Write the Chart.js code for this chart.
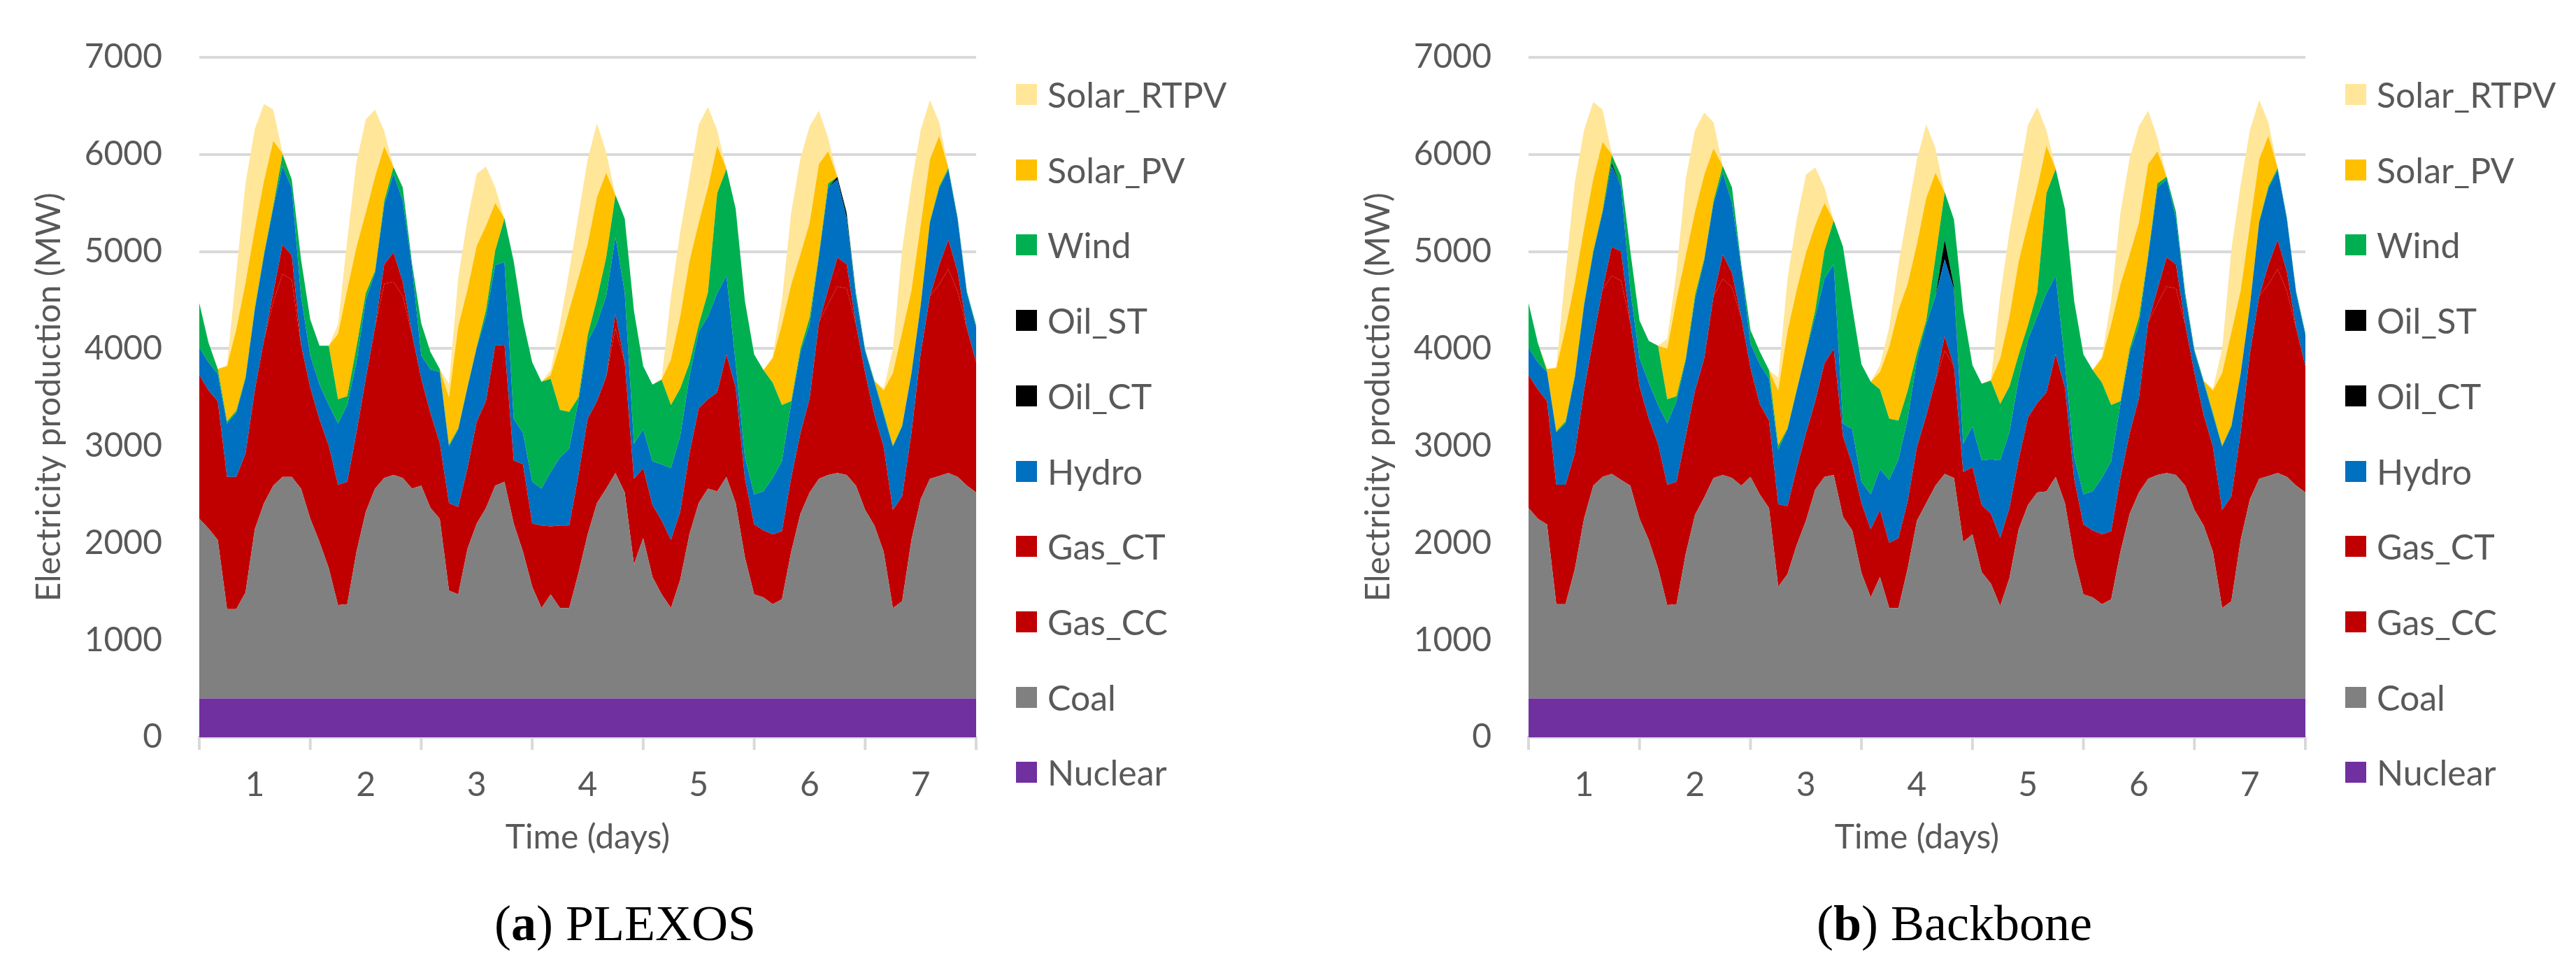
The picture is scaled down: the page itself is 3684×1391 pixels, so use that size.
<!DOCTYPE html>
<html>
<head>
<meta charset="utf-8">
<script src="https://cdn.jsdelivr.net/npm/chart.js@4.4.1/dist/chart.umd.min.js"></script>
<style>
html,body{margin:0;padding:0;background:#ffffff;width:3684px;height:1391px;overflow:hidden;}
.panel{position:absolute;top:0;width:1842px;height:1391px;}
.panel canvas{position:absolute;left:0;top:0;}
.legend{position:absolute;left:1453px;top:0;font-family:Lato,'Open Sans',sans-serif;font-size:50px;color:#595959;}
.item{position:absolute;left:0;height:60px;display:flex;align-items:center;white-space:nowrap;}
.box{width:30px;height:30px;margin-right:15px;flex:none;}
.caption{position:absolute;top:1276px;width:900px;text-align:center;font-family:'Liberation Serif','DejaVu Serif',serif;font-size:72px;line-height:88px;color:#000;}
</style>
</head>
<body>
<div class="panel" id="panelA" style="left:0px;"><canvas id="chartA"></canvas><div class="legend" id="legendA"></div><div class="caption" style="left:444px;">(<b>a</b>) PLEXOS</div></div>
<div class="panel" id="panelB" style="left:1901px;"><canvas id="chartB"></canvas><div class="legend" id="legendB"></div><div class="caption" style="left:444px;">(<b>b</b>) Backbone</div></div>
<script>
// ---------- categories / ticks ----------
const hours = [0,2,4,6,8,10,12,14,16,18,20,22,24,26,28,30,32,34,36,38,40,42,44,46,48,50,52,54,56,58,60,62,64,66,68,70,72,74,76,78,80,82,84,86,88,90,92,94,96,98,100,102,104,106,108,110,112,114,116,118,120,122,124,126,128,130,132,134,136,138,140,142,144,146,148,150,152,154,156,158,160,162,164,166,168];
const dayLabels = ['1','2','3','4','5','6','7'];
const dayCenters = [12,36,60,84,108,132,156];
const dayBounds = [0,24,48,72,96,120,144,168];
const yTicks = [0,1000,2000,3000,4000,5000,6000,7000];
const yTickLabels = ['0','1000','2000','3000','4000','5000','6000','7000'];
const seriesNames = ['Nuclear','Coal','Gas_CC','Gas_CT','Hydro','Oil_CT','Oil_ST','Wind','Solar_PV','Solar_RTPV'];

// ---------- (a) PLEXOS ----------
const nuclearA = [400,400,400,400,400,400,400,400,400,400,400,400,400,400,400,400,400,400,400,400,400,400,400,400,400,400,400,400,400,400,400,400,400,400,400,400,400,400,400,400,400,400,400,400,400,400,400,400,400,400,400,400,400,400,400,400,400,400,400,400,400,400,400,400,400,400,400,400,400,400,400,400,400,400,400,400,400,400,400,400,400,400,400,400,400];
const coalA = [1850,1750,1630,920,920,1090,1740,2010,2190,2280,2280,2160,
1850,1610,1340,960,970,1510,1920,2160,2270,2300,2270,2160,
2190,1960,1850,1110,1070,1540,1800,1960,2190,2230,1800,1510,
1150,930,1070,930,930,1290,1690,2010,2160,2320,2120,1380,
1650,1250,1070,930,1220,1690,2010,2160,2130,2280,2010,1450,
1070,1040,970,1020,1510,1900,2120,2260,2300,2320,2300,2190,
1940,1780,1510,930,1000,1630,2050,2260,2290,2320,2280,2190,
2120];
const gasCCA = [1480,1420,1430,1360,1360,1430,1430,1680,1890,2090,2030,1480,
1350,1260,1260,1240,1260,1230,1370,1660,2000,1990,1870,1590,
1100,975,780,900,900,830,1050,1100,1440,1410,650,900,
650,850,700,850,850,1010,1190,1050,1150,1490,1340,880,
720,740,760,700,700,830,975,920,1020,1260,1190,810,
720,690,720,700,760,830,970,1610,1760,1920,1920,1660,
1410,1140,1080,1010,1080,1100,1500,1880,1970,2100,1910,1620,
1340];
const gasCTA = [0,0,0,0,0,0,0,0,100,300,250,0,
0,0,0,0,0,0,0,0,200,300,150,0,
0,0,0,0,0,0,0,0,0,0,0,0,
0,0,0,0,0,0,0,0,0,150,0,0,
0,0,0,0,0,0,0,0,0,0,0,0,
0,0,0,0,0,0,0,0,150,300,250,0,
0,0,0,0,0,0,0,0,200,300,200,0,
0];
const hydroA = [280,290,280,550,660,770,830,870,870,810,690,500,
330,360,420,630,790,720,810,560,610,810,830,690,
240,450,730,580,800,830,760,870,830,850,430,320,
430,380,560,700,790,760,790,800,830,790,720,360,
400,450,580,740,780,790,790,850,1020,810,250,220,
310,400,580,720,760,830,760,680,1050,800,470,290,
220,330,330,650,720,610,490,760,790,720,540,360,
360];
const oilCTA = [0,0,0,0,0,0,0,0,0,0,0,0,
0,0,0,0,0,0,0,0,0,0,0,0,
0,0,0,0,0,0,0,0,0,0,0,0,
0,0,0,0,0,0,0,0,0,0,0,0,
0,0,0,0,0,0,0,0,0,0,0,0,
0,0,0,0,0,0,0,0,0,30,50,0,
0,0,0,0,0,0,0,0,0,0,0,0,
0];
const oilSTA = [0,0,0,0,0,0,0,0,0,0,0,0,
0,0,0,0,0,0,0,0,0,0,0,0,
0,0,0,0,0,0,0,0,0,0,0,0,
0,0,0,0,0,0,0,0,0,0,0,0,
0,0,0,0,0,0,0,0,0,0,0,0,
0,0,0,0,0,0,0,0,0,0,0,0,
0,0,0,0,0,0,0,0,0,0,0,0,
0];
const windA = [460,200,50,20,20,20,20,20,20,120,90,380,
370,400,610,250,90,160,70,20,40,70,140,40,
330,180,30,20,10,10,10,65,150,450,1620,1160,
1230,1100,960,490,380,40,70,250,400,430,760,1370,
650,790,870,650,490,140,70,250,1030,1100,1590,1610,
1440,1250,980,580,30,40,70,20,40,0,20,40,
20,20,20,10,10,10,10,10,20,20,20,20,
20];
const solarPVA = [0,0,0,570,840,970,810,750,670,10,0,0,
0,0,0,670,1100,1030,830,970,560,0,0,0,
0,0,0,490,1050,1000,1040,870,490,0,0,0,
0,0,40,670,1050,1230,940,1050,870,0,0,0,
0,0,5,470,740,1050,1050,1080,490,0,0,0,
0,0,250,830,1200,970,980,930,330,0,0,0,
0,0,230,750,960,850,820,640,520,0,0,0,
0];
const solarRTPVA = [0,0,0,10,580,1020,1030,790,320,10,0,0,
0,0,0,100,510,870,960,690,160,0,0,0,
0,0,0,140,500,720,740,610,160,0,0,0,
0,0,50,220,400,650,870,760,210,0,0,0,
0,0,10,650,870,850,1010,830,160,0,0,0,
0,0,20,250,740,990,990,550,140,0,0,0,
0,0,20,250,850,1090,980,610,140,0,0,0,
0];

// ---------- (b) Backbone ----------
const nuclearB = [400,400,400,400,400,400,400,400,400,400,400,400,400,400,400,400,400,400,400,400,400,400,400,400,400,400,400,400,400,400,400,400,400,400,400,400,400,400,400,400,400,400,400,400,400,400,400,400,400,400,400,400,400,400,400,400,400,400,400,400,400,400,400,400,400,400,400,400,400,400,400,400,400,400,400,400,400,400,400,400,400,400,400,400,400];
const coalB = [1960,1850,1790,970,970,1330,1850,2190,2280,2310,2250,2190,
1850,1630,1340,960,970,1490,1890,2070,2270,2300,2270,2190,
2280,2100,1960,1150,1280,1580,1830,2150,2280,2300,1870,1730,
1290,1040,1250,930,930,1340,1830,2010,2190,2310,2270,1610,
1690,1300,1180,950,1240,1740,1990,2120,2130,2280,2010,1450,
1070,1040,970,1020,1510,1900,2120,2260,2300,2320,2300,2190,
1940,1780,1510,930,1000,1630,2050,2260,2290,2320,2280,2190,
2120];
const gasCCB = [1370,1330,1270,1230,1230,1190,1320,1510,1930,2040,2050,1680,
1360,1250,1280,1240,1260,1210,1280,1430,1870,2020,1960,1730,
1120,930,900,850,700,790,900,910,1170,1300,830,680,
720,700,690,670,720,690,760,900,1080,1270,1150,720,
690,690,720,700,720,720,900,920,1020,1260,1190,810,
720,690,720,700,760,830,970,1610,1760,1920,1920,1660,
1410,1140,1080,1010,1080,1100,1500,1880,1970,2100,1910,1620,
1300];
const gasCTB = [0,0,0,0,0,0,0,0,0,300,300,0,
0,0,0,0,0,0,0,0,0,250,150,0,
0,0,0,0,0,0,0,0,0,0,0,0,
0,0,0,0,0,0,0,0,0,150,0,0,
0,0,0,0,0,0,0,0,0,0,0,0,
0,0,0,0,0,0,0,0,150,300,250,0,
0,0,0,0,0,0,0,0,200,300,200,0,
0];
const hydroB = [280,280,300,540,630,780,870,890,790,830,670,340,
290,370,400,630,830,780,940,1010,960,840,720,510,
250,410,430,560,790,800,830,870,870,870,130,360,
220,360,420,650,810,850,900,940,870,790,790,290,
420,460,560,800,780,830,800,890,1020,810,250,220,
310,400,580,720,760,830,760,680,1050,800,470,290,
220,330,330,650,720,610,490,760,790,720,540,360,
320];
const oilCTB = [0,0,0,0,0,0,0,0,0,30,0,0,
0,0,0,0,0,0,0,0,0,0,0,0,
0,0,0,0,0,0,0,0,0,0,0,0,
0,0,0,0,0,0,0,0,0,0,0,0,
0,0,0,0,0,0,0,0,0,0,0,0,
0,0,0,0,0,0,0,0,0,0,0,0,
0,0,0,0,0,0,0,0,0,0,0,0,
0];
const oilSTB = [0,0,0,0,0,0,0,0,0,0,0,0,
0,0,0,0,0,0,0,0,0,0,0,0,
0,0,0,0,0,0,0,0,0,0,0,0,
0,0,0,0,0,0,0,0,0,200,30,0,
0,0,0,0,0,0,0,0,0,0,0,0,
0,0,0,0,0,0,0,0,0,0,0,0,
0,0,0,0,0,0,0,0,0,0,0,0,
0];
const windB = [460,200,10,10,20,20,20,20,20,80,110,400,
390,430,610,250,50,20,40,20,20,70,160,40,
140,130,90,40,10,10,10,65,290,450,1820,1260,
1210,1160,820,630,400,290,70,40,400,490,690,1370,
630,790,810,580,470,250,150,250,1030,1100,1590,1610,
1440,1250,980,580,30,40,70,20,40,30,70,40,
20,20,20,10,10,10,10,10,20,20,20,20,
20];
const solarPVB = [0,0,20,650,960,960,780,740,710,10,0,0,
0,0,0,520,1000,1060,860,860,540,0,0,0,
0,0,0,570,1000,1030,1020,880,490,0,0,0,
0,0,180,740,1140,1100,1120,1260,870,0,0,0,
0,0,5,470,720,960,1050,1080,490,0,0,0,
0,0,250,830,1200,970,980,930,330,0,0,0,
0,0,230,750,960,850,820,640,520,0,0,0,
0];
const solarRTPVB = [0,0,0,10,580,1030,1010,790,330,10,0,0,
0,0,0,100,290,790,840,640,270,0,0,0,
0,0,0,130,540,720,800,590,160,0,0,0,
0,0,70,200,470,740,870,760,250,0,0,0,
0,0,10,650,870,850,1010,830,160,0,0,0,
0,0,20,250,740,990,990,550,140,0,0,0,
0,0,20,250,850,1090,980,610,140,0,0,0,
0];

// ---------- styling ----------
const seriesColors = ['#7030A0','#808080','#C00000','#C00000','#0070C0','#000000','#000000','#00B050','#FFC000','#FFE699'];
const TXT = '#595959';
const FONT = "Lato, 'Open Sans', sans-serif";

const plexosSeries = [nuclearA, coalA, gasCCA, gasCTA, hydroA, oilCTA, oilSTA, windA, solarPVA, solarRTPVA];
const backboneSeries = [nuclearB, coalB, gasCCB, gasCTB, hydroB, oilCTB, oilSTB, windB, solarPVB, solarRTPVB];

const dayTickPlugin = {
  id: 'dayTicks',
  afterDraw(chart) {
    const xs = chart.scales.x, ctx = chart.ctx, y0 = chart.chartArea.bottom;
    ctx.save();
    ctx.strokeStyle = '#D9D9D9';
    ctx.lineWidth = 4;
    dayBounds.forEach(v => {
      const px = xs.getPixelForValue(v);
      ctx.beginPath(); ctx.moveTo(px, y0); ctx.lineTo(px, y0 + 18); ctx.stroke();
    });
    ctx.restore();
  }
};

function buildLegend(el) {
  const order = seriesNames.map((n, i) => i).reverse();
  order.forEach((idx, row) => {
    const item = document.createElement('div');
    item.className = 'item';
    item.style.top = (135 + row * 107.7 - 30) + 'px';
    const box = document.createElement('div');
    box.className = 'box';
    box.style.background = seriesColors[idx];
    const t = document.createElement('span');
    t.textContent = seriesNames[idx];
    item.appendChild(box); item.appendChild(t);
    el.appendChild(item);
  });
}

function makeChart(canvasId, seriesList) {
  const canvas = document.getElementById(canvasId);
  canvas.width = 1400; canvas.height = 1240;
  canvas.style.width = '1400px'; canvas.style.height = '1240px';
  const datasets = seriesList.map((vals, i) => ({
    label: seriesNames[i],
    data: hours.map((h, k) => ({x: h, y: vals[k]})),
    backgroundColor: seriesColors[i],
    borderColor: seriesColors[i],
    borderWidth: 0,
    pointRadius: 0,
    pointHoverRadius: 0,
    tension: 0,
    fill: i === 0 ? 'origin' : '-1'
  }));
  return new Chart(canvas, {
    type: 'line',
    data: { datasets },
    plugins: [dayTickPlugin],
    options: {
      responsive: false,
      animation: false,
      events: [],
      layout: { padding: { top: 64, right: 4, left: 0, bottom: 0 } },
      plugins: { legend: { display: false }, tooltip: { enabled: false } },
      scales: {
        x: {
          type: 'linear', min: 0, max: 168,
          afterBuildTicks: s => { s.ticks = dayCenters.map(v => ({ value: v })); },
          afterFit: s => { s.height = 186; },
          ticks: { callback: (v, i) => dayLabels[i], autoSkip: false, maxRotation: 0,
                   color: TXT, font: { family: FONT, size: 48 }, padding: 40 },
          grid: { display: false, drawTicks: false },
          border: { display: true, color: '#D9D9D9', width: 4 },
          title: { display: true, text: 'Time (days)', color: TXT,
                   font: { family: FONT, size: 48 }, padding: { top: 0, bottom: 14 } }
        },
        y: {
          stacked: true, min: 0, max: 7000,
          afterBuildTicks: s => { s.ticks = yTicks.map(v => ({ value: v })); },
          afterFit: s => { s.width = 285; },
          ticks: { callback: (v, i) => yTickLabels[i], color: TXT,
                   font: { family: FONT, size: 48 }, padding: 53 },
          grid: { color: '#D9D9D9', lineWidth: 4, drawTicks: false },
          border: { display: false },
          title: { display: true, text: 'Electricity production (MW)', color: TXT,
                   font: { family: FONT, size: 48 }, padding: { top: 42, bottom: 0 } }
        }
      }
    }
  });
}

function start() {
  buildLegend(document.getElementById('legendA'));
  buildLegend(document.getElementById('legendB'));
  makeChart('chartA', plexosSeries);
  makeChart('chartB', backboneSeries);
}
const fontReady = (document.fonts && document.fonts.load)
  ? Promise.race([document.fonts.load("48px Lato"), new Promise(r => setTimeout(r, 1500))])
  : Promise.resolve();
fontReady.then(start, start);
</script>
</body>
</html>
